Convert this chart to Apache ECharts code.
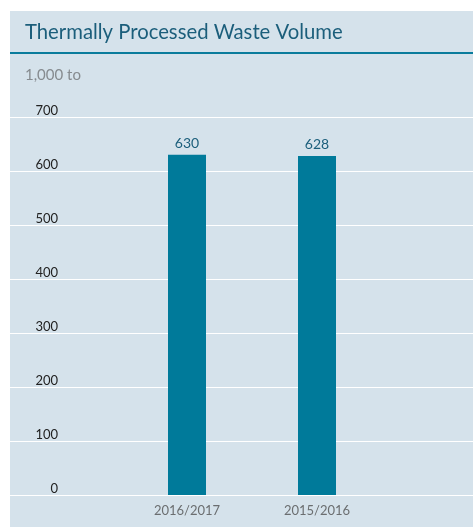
<!DOCTYPE html>
<html>
<head>
<meta charset="utf-8">
<script src="https://cdn.jsdelivr.net/npm/echarts@6/dist/echarts.min.js"></script>
<style>
  html, body { margin: 0; padding: 0; background: #fff; }
  #chart { width: 473px; height: 527px; }
</style>
</head>
<body>
<div id="chart"></div>
<script>
const categories = ['2016/2017', '2015/2016'];
const values = [630, 628];
const yTicks = [0, 100, 200, 300, 400, 500, 600, 700];

const chart = echarts.init(document.getElementById('chart'));
const font = 'Lato, "Open Sans", sans-serif';

chart.setOption({
  backgroundColor: '#ffffff',
  textStyle: { fontFamily: font },
  graphic: [
    {
      type: 'rect',
      z: -10,
      shape: { x: 10, y: 11, width: 463, height: 516 },
      style: { fill: '#d5e2eb' },
    },
    {
      type: 'text',
      left: 25,
      top: 22,
      style: { text: 'Thermally Processed Waste Volume', fill: '#1b5e7b', fontSize: 20.3, fontFamily: font },
    },
    {
      type: 'rect',
      shape: { x: 10, y: 52, width: 463, height: 2 },
      style: { fill: '#0a7c9c' },
    },
    {
      type: 'text',
      left: 25,
      top: 68,
      style: { text: '1,000 to', fill: '#868b8f', fontSize: 15, fontFamily: font },
    },
  ],
  grid: [
    // full-width grid for the horizontal lines and y labels
    { left: 10, right: 0, top: 117, bottom: 32 },
    // narrower grid holding the two bars
    { left: 122, width: 260, top: 117, bottom: 32 },
  ],
  xAxis: [
    { gridIndex: 0, type: 'value', show: false },
    {
      gridIndex: 1,
      type: 'category',
      data: categories,
      axisLine: { show: false },
      axisTick: { show: false },
      axisLabel: { color: '#6b6e70', fontSize: 13, margin: 9 },
    },
  ],
  yAxis: [
    {
      gridIndex: 0,
      type: 'value',
      min: 0,
      max: 700,
      interval: 100,
      axisLine: { show: false },
      axisTick: { show: false },
      splitLine: { lineStyle: { color: '#ffffff', width: 1 } },
      axisLabel: {
        inside: true,
        margin: 48,
        align: 'right',
        verticalAlign: 'bottom',
        color: '#222',
        fontSize: 13,
        formatter: (v) => (yTicks.includes(v) ? String(v) : ''),
      },
    },
    {
      gridIndex: 1,
      type: 'value',
      min: 0,
      max: 700,
      interval: 100,
      show: false,
      splitLine: { show: false },
    },
  ],
  series: [
    {
      type: 'bar',
      xAxisIndex: 1,
      yAxisIndex: 1,
      data: values,
      barWidth: 38,
      itemStyle: { color: '#007a9a' },
      label: {
        show: true,
        position: 'top',
        distance: 4,
        color: '#1b5e7b',
        fontSize: 14,
      },
    },
  ],
});
</script>
</body>
</html>
